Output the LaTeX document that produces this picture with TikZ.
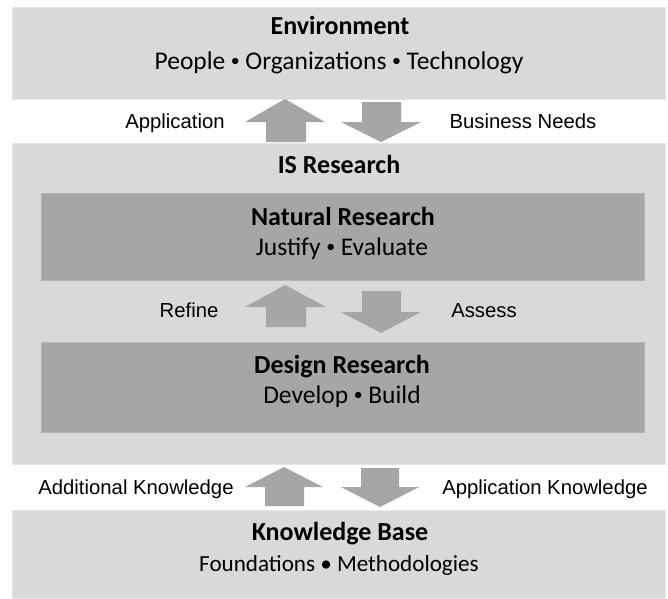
\documentclass[tikz,border=0pt]{standalone}
\usepackage{fontspec}
\setmainfont{Carlito}
\newfontfamily\labelfont{Liberation Sans}
\definecolor{paleband}{HTML}{D9D9D9}
\definecolor{darkband}{HTML}{A6A6A6}
\definecolor{darkedge}{HTML}{B4B4B4}
\definecolor{paleedge}{HTML}{E6E6E6}
% small centred bullet between items
\newcommand\itemdot{\hspace{0.22em}\raisebox{0.08em}{\scalebox{0.7}{•}}\hspace{0.22em}}
\begin{document}
\begin{tikzpicture}[x=1pt,y=-1pt,
  paleblock/.style={fill=paleband,draw=paleedge,line width=0.8pt},
  darkblock/.style={fill=darkband,draw=darkedge,line width=1pt},
  blockarrow/.style={fill=darkband,draw=none},
  headtext/.style={font=\fontsize{26}{30}\selectfont\bfseries,inner sep=0pt,anchor=base},
  subtext/.style={font=\fontsize{25.5}{30}\selectfont,inner sep=0pt,anchor=base},
  sidelabel/.style={font=\labelfont\fontsize{20.3}{24}\selectfont,inner sep=0pt,anchor=base}]
\useasboundingbox (0,0) rectangle (668,598);
\fill[white] (0,0) rectangle (668,598);

% bands
\path[paleblock] (12,7) rectangle (665,99);
\path[paleblock] (12,143) rectangle (665,464);
\path[darkblock] (41,193) rectangle (644,280);
\path[darkblock] (41,342) rectangle (644,432);
\path[paleblock] (12,510) rectangle (665,598);

% band texts (placed on their baselines)
\node[headtext] (env) at (340,34) {Environment};
\node[subtext] (envsub) at (339,69) {People\itemdot Organizations\itemdot Technology};
\node[headtext] (isr) at (339,173) {IS Research};
\node[headtext] (nat) at (343,225.5) {Natural Research};
\node[subtext] (natsub) at (342,255) {Justify\itemdot Evaluate};
\node[headtext] (des) at (342,373.5) {Design Research};
\node[subtext] (dessub) at (342,403) {Develop\itemdot Build};
\node[headtext] (kb) at (340,540.5) {Knowledge Base};
\node[subtext,font=\fontsize{23.1}{28}\selectfont] (kbsub) at (339,571) {Foundations • Methodologies};

% side labels
\node[sidelabel] (app) at (175,128.5) {Application};
\node[sidelabel] (bn) at (523,128.5) {Business Needs};
\node[sidelabel] (ref) at (189,317.5) {Refine};
\node[sidelabel] (ass) at (484,317.5) {Assess};
\node[sidelabel] (addk) at (136,494.5) {Additional Knowledge};
\node[sidelabel] (appk) at (545,494.5) {Application Knowledge};

% block arrows between environment and IS research
\fill[blockarrow] (285,99) -- (325,122) -- (306,122) -- (306,142) -- (266,142) -- (266,122) -- (245,122) -- cycle;
\fill[blockarrow] (362,102) -- (401,102) -- (401,122) -- (421,122) -- (381,142) -- (341,122) -- (362,122) -- cycle;

% block arrows between natural and design research
\fill[blockarrow] (285,285) -- (326,307) -- (306,307) -- (306,327) -- (266,327) -- (266,307) -- (245,307) -- cycle;
\fill[blockarrow] (362,291) -- (401,291) -- (401,312) -- (421,312) -- (381,333) -- (341,312) -- (362,312) -- cycle;

% block arrows between IS research and knowledge base
\fill[blockarrow] (284,467) -- (323,487) -- (304,487) -- (304,506) -- (265,506) -- (265,487) -- (245,487) -- cycle;
\fill[blockarrow] (361,468) -- (399,468) -- (399,487) -- (419,487) -- (380,507) -- (341,487) -- (361,487) -- cycle;
\end{tikzpicture}
\end{document}
